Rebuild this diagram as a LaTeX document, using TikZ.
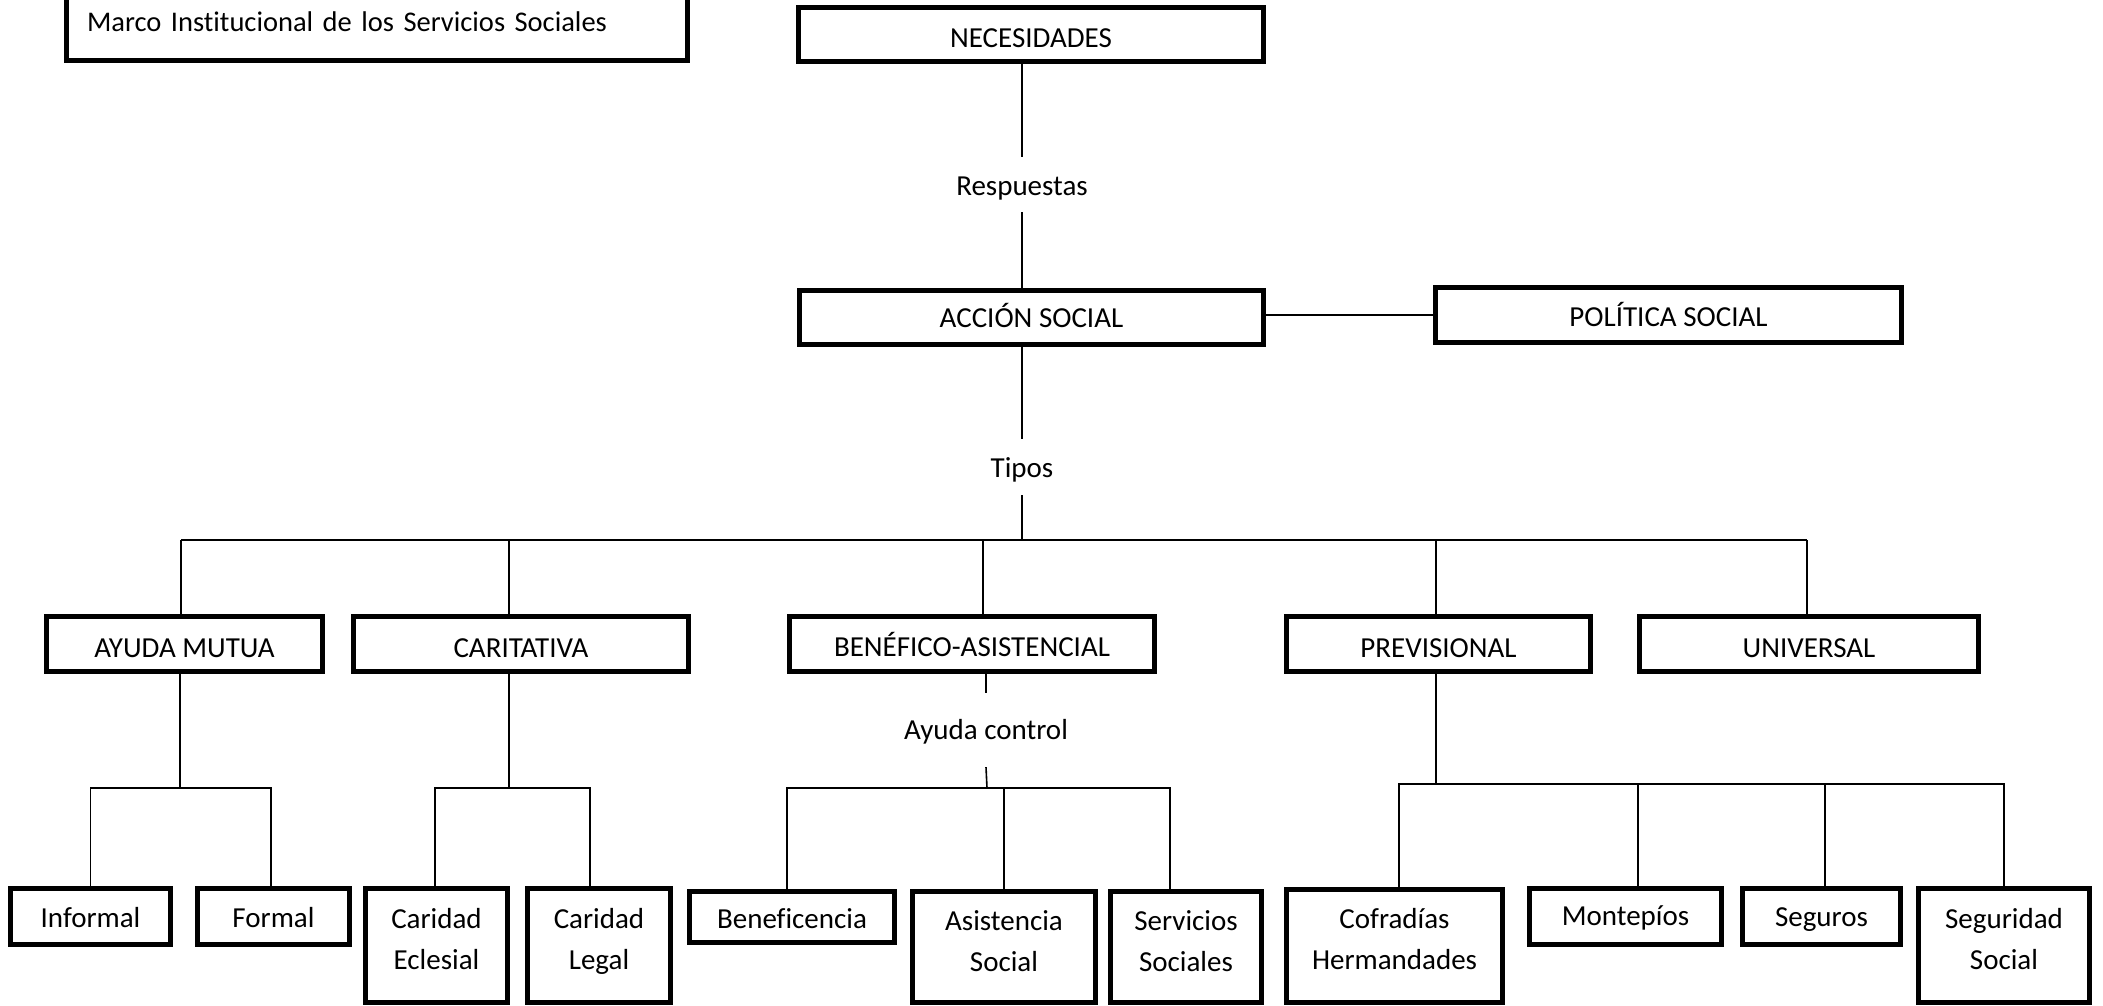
\documentclass[tikz,border=0pt]{standalone}
\usepackage{fontspec}
\setmainfont{Carlito}[Ligatures=NoCommon]
\newcommand{\mylift}[2]{\raisebox{#1}[\height][\depth]{\begin{tabular}{@{}c@{}}#2\end{tabular}}}
\begin{document}
\begin{tikzpicture}[x=1pt,y=-1pt,
  lbl/.style={font=\fontsize{29}{41}\selectfont},
  box/.style={draw, line width=5pt, inner sep=0pt, align=center, lbl},
  tag/.style={inner sep=0pt, align=center, lbl},
  conn/.style={line width=1.6pt}]
\useasboundingbox (0,0) rectangle (2103,1006);
% top
\node[box, minimum width=621pt, minimum height=78pt, text width=580pt, inner xsep=20.5pt, align=left, font=\fontsize{28.5}{34}\selectfont] (marco) at (377,21.5) {Marco Institucional de los Servicios Sociales};
\node[box, minimum width=465pt, minimum height=54pt] (nec) at (1031,34.5) {\mylift{-5pt}{NECESIDADES}};
\node[tag, minimum height=55pt] (resp) at (1022,184.5) {\mylift{-3pt}{Respuestas}};
\node[box, minimum width=464pt, minimum height=54pt] (accion) at (1031.5,317.5) {\mylift{-2pt}{ACCIÓN SOCIAL}};
\node[box, minimum width=466pt, minimum height=55pt] (pol) at (1668.5,315) {\mylift{-3pt}{POLÍTICA SOCIAL}};
\node[tag, minimum height=56pt] (tipos) at (1022,467) {\mylift{-2pt}{Tipos}};
% level 2
\node[box, minimum width=276pt, minimum height=55pt] (ayuda) at (184.5,644) {\mylift{-5pt}{AYUDA MUTUA}};
\node[box, minimum width=335pt, minimum height=55pt] (carit) at (521,644) {\mylift{-5pt}{CARITATIVA}};
\node[box, minimum width=365pt, minimum height=55pt] (benef) at (972,644) {\mylift{-4pt}{BENÉFICO-ASISTENCIAL}};
\node[box, minimum width=304pt, minimum height=55pt] (prev) at (1438.5,644) {\mylift{-5pt}{PREVISIONAL}};
\node[box, minimum width=339pt, minimum height=55pt] (univ) at (1809,644) {\mylift{-5pt}{UNIVERSAL}};
\node[tag, minimum height=74pt] (actl) at (986,730) {\mylift{-1pt}{Ayuda control}};
% level 3
\node[box, minimum width=160pt, minimum height=56pt] (informal) at (90.5,916.5) {\mylift{-3pt}{Informal}};
\node[box, minimum width=152pt, minimum height=56pt] (formal) at (273.5,916.5) {\mylift{-3pt}{Formal}};
\node[box, minimum width=142pt, minimum height=114pt] (careclesial) at (436.5,945.5) {\mylift{5pt}{Caridad\\Eclesial}};
\node[box, minimum width=143pt, minimum height=114pt] (carlegal) at (599,945.5) {\mylift{5pt}{Caridad\\Legal}};
\node[box, minimum width=205pt, minimum height=51pt] (benefic) at (792,917) {\mylift{-3pt}{Beneficencia}};
\node[box, minimum width=183pt, minimum height=111pt] (asist) at (1004,947) {\mylift{4pt}{Asistencia\\Social}};
\node[box, minimum width=151pt, minimum height=111pt] (servicios) at (1186,947) {\mylift{4pt}{Servicios\\Sociales}};
\node[box, minimum width=216pt, minimum height=113pt] (cofradias) at (1394.5,946) {\mylift{5pt}{Cofradías\\Hermandades}};
\node[box, minimum width=192pt, minimum height=56pt] (montepios) at (1625.5,916.5) {\mylift{-1pt}{Montepíos}};
\node[box, minimum width=158pt, minimum height=56pt] (seguros) at (1821.5,916.5) {\mylift{-2pt}{Seguros}};
\node[box, minimum width=171pt, minimum height=114pt] (seguridad) at (2004,945.5) {\mylift{5pt}{Seguridad\\Social}};
% junctions
\coordinate (bA) at (181,540);
\coordinate (bB) at (509,540);
\coordinate (bC) at (983,540);
\coordinate (bD) at (1436,540);
\coordinate (bE) at (1807,540);
\coordinate (jA) at (180,788);
\coordinate (jB) at (509,788);
\coordinate (jC) at (987,788);
\coordinate (jD) at (1436,784);
% connectors top
\draw[conn] (nec.south -| resp) -- (resp.north);
\draw[conn] (resp.south) -- (resp.south |- accion.north);
\draw[conn] (accion.east |- pol) -- (pol.west);
\draw[conn] (accion.south -| tipos) -- (tipos.north);
\draw[conn] (tipos.south) -- (tipos.south |- bA);
\draw[conn] (bA) -- (bE);
\draw[conn] (bA) -- (bA |- ayuda.north);
\draw[conn] (bB) -- (bB |- carit.north);
\draw[conn] (bC) -- (bC |- benef.north);
\draw[conn] (bD) -- (bD |- prev.north);
\draw[conn] (bE) -- (bE |- univ.north);
% ayuda mutua
\draw[conn] (jA |- ayuda.south) -- (jA);
\draw[conn] (informal) |- (jA) -| ([xshift=-2.5pt]formal.north);
% caritativa
\draw[conn] (jB |- carit.south) -- (jB);
\draw[conn] ([xshift=-1.5pt]careclesial.north) |- (jB) -| ([xshift=-9pt]carlegal.north);
% benefico
\draw[conn] (benef.south -| actl) -- (actl.north);
\draw[conn] (actl.south) -- (jC);
\draw[conn] ([xshift=-5pt]benefic.north) |- (jC) -| ([xshift=-16pt]servicios.north);
\draw[conn] (asist) -- (asist |- jC);
% previsional
\draw[conn] (jD |- prev.south) -- (jD);
\draw[conn] ([xshift=4.5pt]cofradias.north) |- (jD) -| (seguridad);
\draw[conn] ([xshift=12.5pt]montepios.north) -- ([xshift=12.5pt]montepios.north |- jD);
\draw[conn] ([xshift=3.5pt]seguros.north) -- ([xshift=3.5pt]seguros.north |- jD);
\end{tikzpicture}
\end{document}
